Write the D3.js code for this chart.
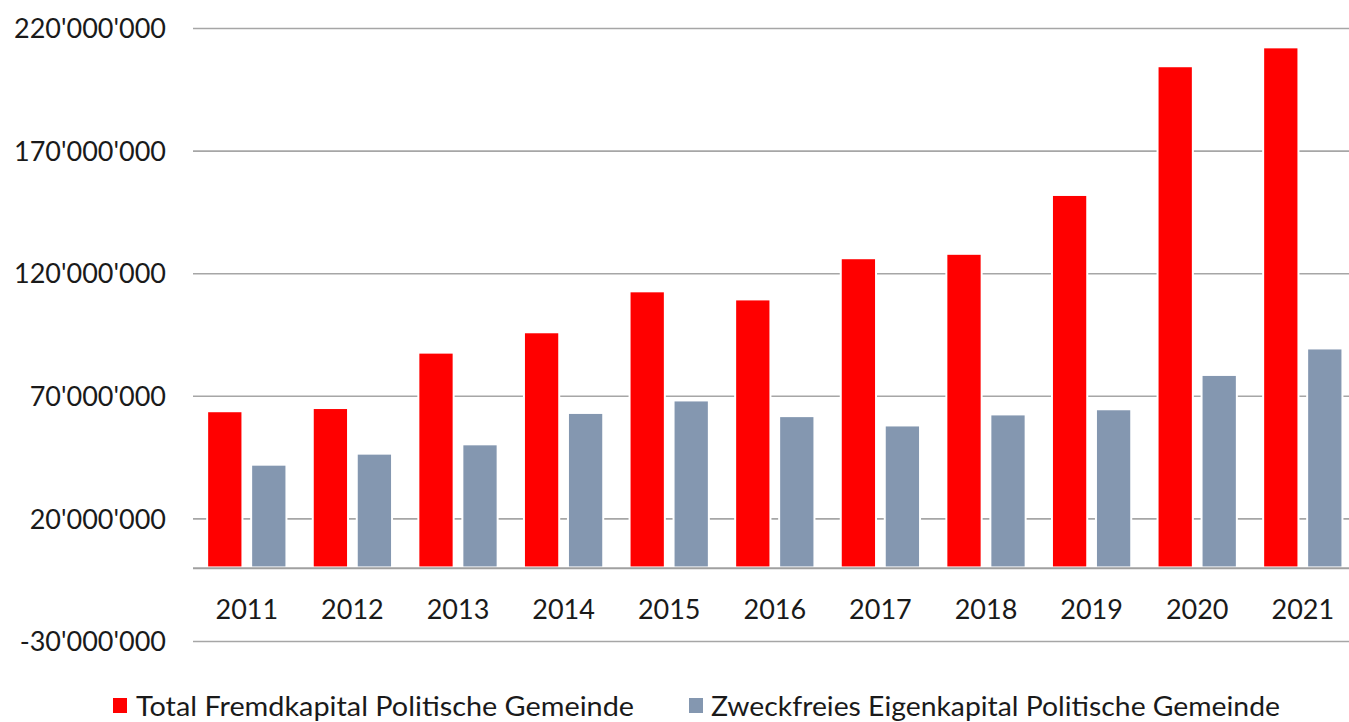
<!DOCTYPE html>
<html>
<head>
<meta charset="utf-8">
<script src="https://cdn.jsdelivr.net/npm/d3@7"></script>
<style>
  html, body { margin: 0; padding: 0; background: #fff; }
  svg { display: block; font-family: Lato, "Open Sans", sans-serif; }
</style>
</head>
<body>
<svg id="chart" width="1349" height="722"></svg>
<script>
const years = ["2011","2012","2013","2014","2015","2016","2017","2018","2019","2020","2021"];
const fremdkapital = [63.3, 64.6, 87.2, 95.5, 112.2, 108.9, 125.7, 127.5, 151.5, 204.0, 211.7].map(v => v * 1e6);
const eigenkapital = [41.5, 46.0, 49.8, 62.6, 67.7, 61.3, 57.5, 62.0, 64.1, 78.1, 88.9].map(v => v * 1e6);
const seriesNames = ["Total Fremdkapital Politische Gemeinde", "Zweckfreies Eigenkapital Politische Gemeinde"];
const seriesColors = ["#FF0000", "#8497B0"];
const yTicks = [-30e6, 20e6, 70e6, 120e6, 170e6, 220e6];

const svg = d3.select("#chart");
const plotLeft = 194, plotRight = 1355.6;
const y = d3.scaleLinear().domain([-30e6, 220e6]).range([641, 28]);
const x0 = d3.scaleBand().domain(years).range([plotLeft, plotRight]).padding(0);
const x1 = d3.scaleBand().domain([0, 1]).range([0, x0.bandwidth()]).paddingInner(0.198).paddingOuter(0.299);

const fmt = v => d3.format(",")(v).replace(/,/g, "'").replace("−", "-");

// gridlines
const grid = svg.append("g").attr("class", "grid");
grid.selectAll("line").data(yTicks).join("line")
  .attr("x1", plotLeft - 1).attr("x2", 1349)
  .attr("y1", d => y(d) + 0.5).attr("y2", d => y(d) + 0.5)
  .attr("stroke", "#A6A6A6").attr("stroke-width", 1.6);

// y labels via axis
const yAxis = svg.append("g").attr("transform", `translate(166,0)`)
  .call(d3.axisLeft(y).tickValues(yTicks).tickFormat(fmt).tickSize(0).tickPadding(0));
yAxis.select(".domain").remove();
yAxis.selectAll("text").attr("font-size", 27).attr("fill", "#1a1a1a")
  .attr("font-family", "Lato, sans-serif").attr("dy", "0.36em");

// bars
const data = years.map((yr, i) => ({ year: yr, values: [fremdkapital[i], eigenkapital[i]] }));
const groups = svg.append("g").selectAll("g").data(data).join("g")
  .attr("transform", d => `translate(${x0(d.year)},0)`);
groups.selectAll("rect").data(d => d.values.map((v, k) => ({ v, k }))).join("rect")
  .attr("x", d => x1(d.k))
  .attr("width", x1.bandwidth())
  .attr("y", d => y(d.v) - 1)
  .attr("height", d => y(0) - y(d.v) + 1)
  .attr("fill", d => seriesColors[d.k])
  .attr("stroke", "#fff").attr("stroke-width", 2);

// zero axis line
svg.append("line").attr("x1", plotLeft - 1).attr("x2", 1349)
  .attr("y1", y(0) + 0.8).attr("y2", y(0) + 0.8)
  .attr("stroke", "#A0A0A0").attr("stroke-width", 2);

// x labels
const xAxis = svg.append("g").attr("transform", `translate(0,${y(0)})`)
  .call(d3.axisBottom(x0).tickSize(0).tickPadding(0));
xAxis.select(".domain").remove();
xAxis.selectAll("text").attr("font-size", 27).attr("fill", "#1a1a1a")
  .attr("font-family", "Lato, sans-serif").attr("dy", 0).attr("y", 52);

// legend
const legendItems = [
  { name: seriesNames[0], color: seriesColors[0], sx: 113, tx: 136, w: 498 },
  { name: seriesNames[1], color: seriesColors[1], sx: 689, tx: 711, w: 569 }
];
const lg = svg.append("g");
legendItems.forEach(it => {
  lg.append("rect").attr("x", it.sx).attr("y", 698).attr("width", 14).attr("height", 15).attr("fill", it.color);
  lg.append("text").attr("x", it.tx).attr("y", 716).attr("font-size", 27)
    .attr("fill", "#1a1a1a").attr("font-family", "Lato, sans-serif")
    .attr("textLength", it.w).attr("lengthAdjust", "spacingAndGlyphs")
    .text(it.name);
});
</script>
</body>
</html>
